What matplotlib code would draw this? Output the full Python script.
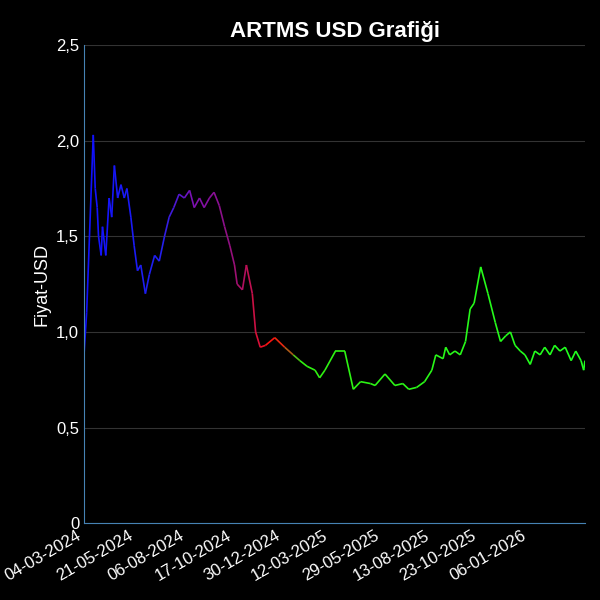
import numpy as np
import matplotlib
matplotlib.use("Agg")
import matplotlib.pyplot as plt
from matplotlib.collections import LineCollection
from matplotlib.colors import LinearSegmentedColormap
from matplotlib.ticker import FuncFormatter
import pandas as pd

plt.rcParams['font.family'] = ['Liberation Sans', 'DejaVu Sans']

start = pd.Timestamp("2024-03-04")
# Gün (başlangıçtan itibaren) ve fiyat değerleri
days = [0, 4, 14, 17, 20, 22, 26, 28, 33, 38, 42, 46, 51, 56, 61, 65, 71, 76, 81, 86,
        93, 99, 107, 114, 122, 129, 136, 144, 152, 160, 167, 175, 182, 190, 197, 205,
        213, 221, 228, 232, 240, 246, 255, 260, 267, 275, 289, 304, 317, 327, 338, 350,
        357, 365, 381, 395, 408, 419, 434, 441, 456, 471, 483, 492, 504, 516, 527, 533,
        544, 548, 554, 562, 570, 578, 585, 591, 601, 612, 623, 631, 639, 646, 653, 661,
        668, 676, 683, 691, 698, 706, 713, 721, 729, 738, 745, 753, 757, 759]
price = [0.88, 1.10, 2.03, 1.75, 1.65, 1.50, 1.40, 1.55, 1.40, 1.70, 1.60, 1.87, 1.70,
         1.77, 1.70, 1.75, 1.60, 1.45, 1.32, 1.35, 1.20, 1.30, 1.40, 1.37, 1.50, 1.60,
         1.65, 1.72, 1.70, 1.74, 1.65, 1.70, 1.65, 1.70, 1.73, 1.66, 1.55, 1.45, 1.35,
         1.25, 1.22, 1.35, 1.20, 1.00, 0.92, 0.93, 0.97, 0.92, 0.88, 0.85, 0.82, 0.80,
         0.76, 0.80, 0.90, 0.90, 0.70, 0.74, 0.73, 0.72, 0.78, 0.72, 0.73, 0.70, 0.71,
         0.74, 0.80, 0.88, 0.86, 0.92, 0.88, 0.90, 0.88, 0.95, 1.12, 1.15, 1.34, 1.20,
         1.05, 0.95, 0.98, 1.00, 0.93, 0.90, 0.88, 0.83, 0.90, 0.88, 0.92, 0.88, 0.93,
         0.90, 0.92, 0.85, 0.90, 0.85, 0.80, 0.85]

tick_labels = ["04-03-2024", "21-05-2024", "06-08-2024", "17-10-2024", "30-12-2024",
               "12-03-2025", "29-05-2025", "13-08-2025", "23-10-2025", "06-01-2026"]

dates = [start + pd.Timedelta(days=d) for d in days]
x = matplotlib.dates.date2num(dates)
y = np.array(price)

fig, ax = plt.subplots(figsize=(6, 6), dpi=100)
fig.patch.set_facecolor("black")
ax.set_facecolor("black")

cmap = LinearSegmentedColormap.from_list(
    "fiyat", [(0, "#1010ff"), (0.15, "#2020f0"), (0.22, "#8010b0"),
              (0.29, "#901080"), (0.33, "#c01050"), (0.37, "#ff1010"),
              (0.40, "#e03010"), (0.415, "#808020"), (0.43, "#30f010"), (1, "#20ff20")])
pts = np.column_stack([x, y]).reshape(-1, 1, 2)
segs = np.concatenate([pts[:-1], pts[1:]], axis=1)
lc = LineCollection(segs, cmap=cmap, linewidth=1.2)
frac = (x - x[0]) / (x[-1] - x[0])
lc.set_array((frac[:-1] + frac[1:]) / 2)
lc.set_clim(0, 1)
ax.add_collection(lc)

ax.set_xlim(x[0], x[-1])
ax.set_ylim(0, 2.5)
tick_pos = matplotlib.dates.date2num([pd.to_datetime(t, format="%d-%m-%Y") for t in tick_labels])
ax.set_xticks(tick_pos)
ax.set_xticklabels(tick_labels, rotation=30, ha="right", color="white", fontsize=12)
ax.set_yticks([0, 0.5, 1.0, 1.5, 2.0, 2.5])
ax.yaxis.set_major_formatter(FuncFormatter(lambda v, p: "0" if v == 0 else f"{v:.1f}".replace(".", ",")))
ax.tick_params(axis="y", colors="white", labelsize=12, length=0)
ax.tick_params(axis="x", colors="white", length=0)
ax.grid(axis="y", color="#333333", linewidth=0.8)
for s in ["top", "right"]:
    ax.spines[s].set_visible(False)
for s in ["left", "bottom"]:
    ax.spines[s].set_color("#4682b4")
ax.set_ylabel("Fiyat-USD", color="white", fontsize=13)
ax.set_title("ARTMS USD Grafiği", color="white", fontsize=16, fontweight="bold")

plt.subplots_adjust(left=0.14, right=0.975, top=0.925, bottom=0.128)
fig.savefig("out.png", facecolor="black")
